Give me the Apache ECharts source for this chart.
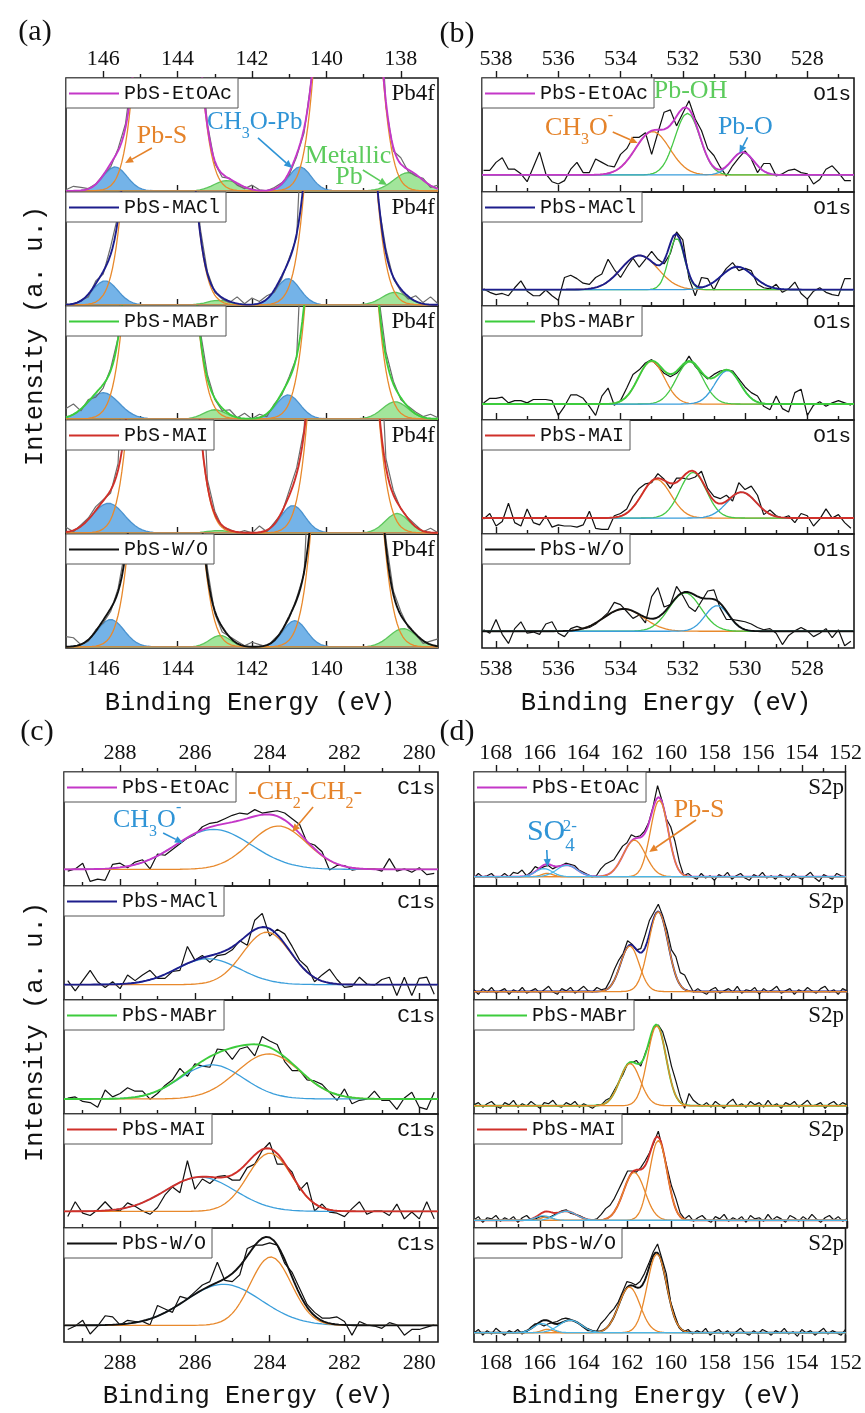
<!DOCTYPE html>
<html><head><meta charset="utf-8">
<script src="https://cdn.jsdelivr.net/npm/echarts@6/dist/echarts.min.js"></script>
<style>html,body{margin:0;padding:0;background:#fff}#c{width:865px;height:1413px}</style>
</head><body><div id="c"></div>
<script>
// ---------------- DATA ----------------
const samples = ['PbS-EtOAc', 'PbS-MACl', 'PbS-MABr', 'PbS-MAI', 'PbS-W/O'];

// measured spectra: first energy and step (eV)
const pb4fStart = 147.0, pb4fStep = 0.2;
const o1sStart = 538.4, o1sStep = 0.2;
const c1sStart = 289.4, c1sStep = 0.2;
const s2pStart = 169.0, s2pStep = 0.2;

// axis ranges (eV)
const pb4fRange = [137, 147];
const o1sRange = [526.5, 538.45];
const c1sRange = [279.5, 289.5];
const s2pRange = [152, 169];

const pb4fMajorTicks = [146, 144, 142, 140, 138];
const pb4fMinorTicks = [145, 143, 141, 139];
const o1sMajorTicks = [538, 536, 534, 532, 530, 528];
const o1sMinorTicks = [537, 535, 533, 531, 529, 527];
const c1sMajorTicks = [288, 286, 284, 282, 280];
const c1sMinorTicks = [289, 287, 285, 283, 281];
const s2pMajorTicks = [168, 166, 164, 162, 160, 158, 156, 154, 152];
const s2pMinorTicks = [167, 165, 163, 161, 159, 157, 155, 153];

// raw intensities (a.u., 0-100 per layer; values above 100 are off scale)
const rawPb4f_EtOAc = [2,5,4,3,7,15,22,38,60,110,200,200,200,200,200,200,200,200,128,60,25,13,12,6,3,6,2,1,4,8,15,31,52,100,200,200,200,200,200,200,200,200,200,75,36,30,18,14,12,4,6];
const rawPb4f_MACl = [2,1,5,8,22,28,52,80,200,200,200,200,200,200,200,200,200,200,70,30,12,6,3,8,2,7,4,9,12,24,42,60,200,200,200,200,200,200,200,200,200,200,90,50,24,13,6,9,3,8,2];
const rawPb4f_MABr = [10,14,8,18,20,28,45,72,200,200,200,200,200,200,200,200,200,200,80,40,18,8,9,2,6,1,5,3,14,22,38,55,200,200,200,200,200,200,200,200,200,200,110,60,34,18,12,7,3,5,2];
const rawPb4f_MAI = [6,2,8,14,24,30,36,62,200,200,200,200,200,200,200,200,200,200,200,48,20,6,4,1,3,1,7,2,10,18,38,58,92,200,200,200,200,200,200,200,200,200,200,66,38,22,14,8,2,5,1];
const rawPb4f_WO = [10,9,3,6,16,22,32,52,88,200,200,200,200,200,200,200,200,200,200,70,30,14,10,6,2,5,3,1,8,14,26,44,65,200,200,200,200,200,200,200,200,200,200,95,50,32,18,12,4,6,8];

const rawO1s_EtOAc = [19,19,26,30,20,20,16,9,22,35,16,9,7,10,20,26,17,17,29,26,23,22,33,38,48,48,52,33,52,70,72,58,69,80,64,54,38,32,22,14,23,30,36,29,17,25,25,14,16,19,20,17,16,7,11,20,23,17,10,10];
const rawO1s_MACl = [15,12,10,11,9,16,22,13,9,9,14,9,5,25,27,24,20,19,25,28,41,32,25,34,42,34,41,48,41,37,46,65,58,24,9,25,24,14,25,33,38,31,33,31,19,16,15,19,12,15,21,11,6,13,16,12,10,9,24,24];
const rawO1s_MABr = [15,19,19,20,15,17,17,15,18,18,18,17,4,12,22,22,19,12,4,21,28,13,17,28,40,44,50,53,47,41,38,41,47,56,47,41,36,40,43,44,43,36,29,24,21,12,9,21,10,7,24,27,4,13,16,12,15,17,15,13];
const rawO1s_MAI = [13,18,7,11,27,10,7,22,10,8,16,6,8,7,7,6,8,20,5,4,4,16,18,22,33,40,44,45,53,48,40,49,49,48,50,55,40,33,31,34,29,45,39,42,34,17,21,16,14,16,10,18,16,7,13,22,14,17,10,5];
const rawO1s_WO = [16,13,25,12,4,17,23,13,14,12,21,23,13,10,17,19,17,18,21,26,31,40,38,32,26,29,22,45,53,36,38,54,46,36,32,41,50,51,35,25,25,24,23,21,18,16,17,13,3,11,15,18,15,10,13,17,9,16,2,6];

const rawC1s_EtOAc = [13,15,20,4,6,5,19,20,16,21,23,15,28,27,32,37,42,45,52,55,56,59,62,64,63,67,64,65,66,64,59,54,38,36,30,14,18,18,14,15,15,15,13,24,13,15,12,16,10,11];
const rawC1s_MACl = [17,8,17,26,16,11,16,10,22,17,22,26,19,19,25,26,47,35,39,33,39,40,44,52,48,70,76,56,62,58,47,35,29,16,22,27,18,11,12,20,14,13,18,20,4,20,4,19,20,5];
const rawC1s_MABr = [14,15,11,10,6,21,15,18,23,20,20,13,18,25,30,40,33,44,42,41,57,56,48,57,59,51,68,64,61,46,38,38,30,29,26,19,12,22,9,12,13,20,12,12,4,14,19,6,4,19];
const rawC1s_MAI = [10,23,13,11,16,23,16,15,22,19,15,12,18,29,36,31,59,34,43,39,45,46,42,42,53,56,68,75,56,56,49,33,40,15,21,14,13,10,17,23,12,15,15,11,21,8,14,8,23,8];
const rawC1s_WO = [11,14,19,7,14,23,22,15,19,18,18,15,32,29,26,40,38,44,50,53,70,54,53,59,82,85,85,87,85,69,61,47,33,26,21,21,22,18,6,18,15,14,12,17,15,6,11,11,13,15];

const rawS2p_EtOAc = [7,11,8,9,11,7,8,11,8,12,11,14,9,12,17,15,17,18,15,17,18,20,19,18,14,12,10,8,9,15,19,21,23,29,35,38,45,43,44,48,56,70,88,75,59,52,39,21,9,11,8,6,11,7,9,5,10,8,12,6,9,11,7,5,10,8,12,7,9,6,10,8,5,11,8,6,9,12,7,4,10,8,6,11,9,8];
const rawS2p_MACl = [9,5,10,7,11,6,8,10,5,9,7,11,6,8,10,6,9,12,7,5,10,8,11,6,9,12,8,7,11,9,10,17,27,35,41,52,49,44,45,57,70,77,84,74,61,44,38,24,22,14,7,10,7,5,9,11,6,8,10,7,12,6,9,8,11,5,10,7,9,12,6,8,10,5,9,7,11,8,6,10,12,7,9,5,10,8];
const rawS2p_MABr = [8,10,6,9,11,7,5,10,8,12,6,9,7,11,8,5,10,9,12,7,6,10,8,11,6,9,7,5,8,8,12,14,21,28,35,44,45,47,42,53,63,76,78,72,59,42,29,15,5,18,12,9,7,10,6,11,8,5,10,13,7,9,6,11,8,10,6,12,7,9,5,10,8,11,6,9,12,7,8,10,5,9,11,7,10,8];
const rawS2p_MAI = [7,10,5,9,8,11,6,9,7,10,5,9,11,7,8,10,10,9,11,13,15,16,13,12,11,9,7,7,8,12,17,20,26,34,42,50,50,49,53,59,66,75,85,69,53,37,26,13,8,11,6,9,11,7,5,10,8,12,6,9,7,10,5,11,8,9,6,12,7,10,8,5,11,9,6,10,7,12,8,5,9,11,7,10,6,8];
const rawS2p_WO = [8,11,6,10,7,12,9,6,10,8,11,7,9,13,16,16,14,16,17,18,20,21,20,18,16,13,10,10,9,16,20,25,29,35,44,53,52,50,53,60,69,79,86,73,60,35,23,12,9,11,7,10,8,12,6,9,11,7,10,5,9,12,8,6,10,7,11,9,6,10,8,12,7,9,5,11,8,10,6,9,12,7,10,8,6,11];

// fitted components: [kind (o=orange, b=blue, g=green), centre eV, height, FWHM eV]
const fitPb4f_EtOAc = [['g',142.68,9,0.8],['g',137.8,16,0.9],['b',145.68,21,0.75],['b',140.71,21,0.7],['o',144.27,600,1.15],['o',139.42,650,1.15]];
const fitPb4f_MACl = [['g',142.9,4,0.7],['g',138.16,11,0.8],['b',145.95,21,0.8],['b',141.03,23,0.75],['o',144.5,650,1.2],['o',139.62,650,1.2]];
const fitPb4f_MABr = [['g',143.0,8,0.7],['g',138.15,15,0.8],['b',146.0,23,1.0],['b',141.03,21,0.75],['o',144.47,650,1.2],['o',139.59,650,1.2]];
const fitPb4f_MAI = [['g',142.9,2,0.7],['g',138.1,17,0.75],['b',145.86,26,1.0],['b',140.9,24,0.75],['o',144.38,650,1.18],['o',139.55,650,1.18]];
const fitPb4f_WO = [['g',142.86,10,0.65],['g',137.94,16,0.85],['b',145.8,24,0.85],['b',140.85,23,0.75],['o',144.32,650,1.2],['o',139.44,650,1.2]];

const fitO1s_EtOAc = [['o',532.97,38,1.3],['g',531.85,54,0.95],['b',530.08,20,0.85]];
const fitO1s_MACl = [['o',533.39,30,1.4],['g',532.2,45,0.6],['b',530.25,20,1.2]];
const fitO1s_MABr = [['o',533.01,37.5,1.0],['g',531.78,37,1.0],['b',530.56,29.5,0.95]];
const fitO1s_MAI = [['o',532.85,34,1.1],['g',531.67,40,1.0],['b',530.11,22.7,1.1]];
const fitO1s_WO = [['o',533.9,19.6,1.5],['g',531.93,33.7,1.2],['b',530.9,22.5,0.9]];

const fitC1s_EtOAc = [['b',285.5,35,2.4],['o',283.77,38,1.8]];
const fitC1s_MACl = [['b',285.65,22.7,2.0],['o',284.08,46,1.5]];
const fitC1s_MABr = [['b',285.55,30,2.0],['o',284.03,39.5,2.0]];
const fitC1s_MAI = [['b',285.86,30,2.2],['o',284.0,51,1.4]];
const fitC1s_WO = [['b',285.24,36,2.4],['o',283.97,60,1.3]];

const fitS2p_EtOAc = [['o',160.52,67,0.95],['o',161.66,32,1.2],['o',165.65,3,0.6],['b',164.75,10,1.1],['b',165.8,7,0.9]];
const fitS2p_MACl = [['o',160.6,70,1.05],['o',161.9,40,1.0]];
const fitS2p_MABr = [['o',160.67,70,1.0],['o',161.89,37,1.1]];
const fitS2p_MAI = [['o',160.6,70,0.95],['o',161.7,42,1.15],['o',165.7,3,0.6],['b',164.8,8,1.1],['b',165.85,4,0.8]];
const fitS2p_WO = [['o',160.63,69,1.05],['o',161.89,40,1.15],['o',165.65,3,0.6],['b',164.6,11,1.2],['b',165.9,8,0.9]];

const basePb4f = [1, 1, 1, 1, 1];
const baseO1s = [15, 14.4, 14, 14, 14.7];
const baseC1s = [14.6, 13.5, 13.2, 14.6, 14.6];
const baseS2p = [8.2, 7.4, 7.3, 6.7, 8.2];

// annotations (grid index, energy, intensity)
const notes = [
  {g:0, E:144.42, u:49, align:'center', c:'o', size:26, text:'{n|Pb-S}'},
  {g:0, E:143.21, u:61.4, align:'left', c:'b', size:25, text:'{n|CH}{s|3}{n|O-Pb}'},
  {g:0, E:139.42, u:31.6, align:'center', c:'g', size:26, text:'{n|Metallic}'},
  {g:0, E:139.39, u:13.2, align:'center', c:'g', size:26, text:'{n|Pb}'},
  {g:5, E:531.75, u:88.6, align:'center', c:'g', size:26, text:'{n|Pb-OH}'},
  {g:5, E:536.43, u:56, align:'left', c:'o', size:26, text:'{n|CH}{s|3}{n|O}{p|-}'},
  {g:5, E:529.99, u:57, align:'center', c:'b', size:26, text:'{n|Pb-O}'},
  {g:10, E:284.58, u:82.5, align:'left', c:'o', size:26, text:'{n|-CH}{s|2}{n|-CH}{s|2}{n|-}'},
  {g:10, E:288.19, u:57.9, align:'left', c:'b', size:26, text:'{n|CH}{s|3}{n|O}{p|-}'},
  {g:15, E:166.58, u:47.4, align:'left', c:'b', size:30, text:'{n|SO}{s|4}'},
  {g:15, E:164.94, u:52, align:'left', c:'b', size:17, text:'2-', plain:true},
  {g:15, E:158.7, u:66.7, align:'center', c:'o', size:26, text:'{n|Pb-S}'}
];
const arrows = [
  {g:0, from:[144.69,38.6], to:[145.41,25.4], c:'o'},
  {g:0, from:[141.84,47.4], to:[140.92,21], c:'b'},
  {g:0, from:[139.02,19.3], to:[138.37,6.1], c:'g'},
  {g:5, from:[534.25,52.6], to:[533.45,43], c:'o'},
  {g:5, from:[529.92,48], to:[530.18,34], c:'b'},
  {g:10, from:[282.84,69.3], to:[283.4,47.4], c:'o'},
  {g:10, from:[286.85,46.5], to:[286.32,37.7], c:'b'},
  {g:15, from:[165.67,31.6], to:[165.63,16.7], c:'b'},
  {g:15, from:[158.84,57.9], to:[160.98,29.8], c:'o'}
];

// ---------------- STYLE / LAYOUT ----------------
const sampleColors = ['#c437c8', '#1d1d8c', '#3ccc3c', '#d0302a', '#111111'];
const noteColors = {o:'#e5832a', b:'#2f94d6', g:'#5ccb5c'};
const ROWH = 114;
const panels = [
  {raw:[rawPb4f_EtOAc,rawPb4f_MACl,rawPb4f_MABr,rawPb4f_MAI,rawPb4f_WO], fit:[fitPb4f_EtOAc,fitPb4f_MACl,fitPb4f_MABr,fitPb4f_MAI,fitPb4f_WO], base:basePb4f,
   range:pb4fRange, start:pb4fStart, step:pb4fStep, majors:pb4fMajorTicks, minors:pb4fMinorTicks, left:66, right:438, top:78, tag:'Pb4f', tagMono:false, mode:'a'},
  {raw:[rawO1s_EtOAc,rawO1s_MACl,rawO1s_MABr,rawO1s_MAI,rawO1s_WO], fit:[fitO1s_EtOAc,fitO1s_MACl,fitO1s_MABr,fitO1s_MAI,fitO1s_WO], base:baseO1s,
   range:o1sRange, start:o1sStart, step:o1sStep, majors:o1sMajorTicks, minors:o1sMinorTicks, left:482, right:854, top:78, tag:'O1s', tagMono:true, mode:'b'},
  {raw:[rawC1s_EtOAc,rawC1s_MACl,rawC1s_MABr,rawC1s_MAI,rawC1s_WO], fit:[fitC1s_EtOAc,fitC1s_MACl,fitC1s_MABr,fitC1s_MAI,fitC1s_WO], base:baseC1s,
   range:c1sRange, start:c1sStart, step:c1sStep, majors:c1sMajorTicks, minors:c1sMinorTicks, left:64, right:438, top:772, tag:'C1s', tagMono:true, mode:'c'},
  {raw:[rawS2p_EtOAc,rawS2p_MACl,rawS2p_MABr,rawS2p_MAI,rawS2p_WO], fit:[fitS2p_EtOAc,fitS2p_MACl,fitS2p_MABr,fitS2p_MAI,fitS2p_WO], base:baseS2p,
   range:s2pRange, start:s2pStart, step:s2pStep, majors:s2pMajorTicks, minors:s2pMinorTicks, left:474, right:847, top:772, tag:'S2p', tagMono:false, mode:'d'}
];
function compColor(mode, kind){
  if (kind === 'o') return '#e8892c';
  if (kind === 'g') return mode === 'a' ? '#5cc65c' : '#45c845';
  if (mode === 'a') return '#4b93cf';
  if (mode === 'd') return '#4cb6e6';
  return '#3a9edb';
}
const FILL = {b:'#74b3e8', g:'#a2e59b'};
const gauss = (E, c, h, F) => h * Math.exp(-4 * Math.LN2 * (E - c) * (E - c) / (F * F));
function fineGrid(lo, hi, step){ const xs = []; const n = Math.round((hi - lo) / step); for (let i = 0; i <= n; i++) xs.push(+(hi - i * step).toFixed(3)); return xs; }

const grids = [], xAxes = [], yAxes = [], series = [], legends = [], gridX = [], tagGraphics = [];
const tickLine = {color:'#1a1a1a', width:1.4};
const labelStyle = {fontFamily:'Liberation Serif', fontSize:22, color:'#111'};

panels.forEach((p, pi) => {
  for (let r = 0; r < 5; r++) {
    const gi = grids.length;
    const top = p.top + r * ROWH;
    grids.push({left:p.left, top:top, width:p.right - p.left, height:ROWH, show:true, borderColor:'#1a1a1a', borderWidth:1.6, backgroundColor:'rgba(0,0,0,0)'});
    const common = {gridIndex:gi, type:'value', inverse:true, min:p.range[0], max:p.range[1], splitLine:{show:false}, axisLine:{show:false}};
    const xi = xAxes.length; gridX[gi] = xi;
    xAxes.push(Object.assign({}, common, {position:'bottom', axisTick:{show:true, inside:true, length:7, customValues:p.majors, lineStyle:tickLine},
      axisLabel:Object.assign({show:r === 4, customValues:p.majors, margin:10}, labelStyle)}));
    xAxes.push(Object.assign({}, common, {position:'bottom', axisTick:{show:true, inside:true, length:4, customValues:p.minors, lineStyle:tickLine}, axisLabel:{show:false}}));
    if (r === 0) {
      xAxes.push(Object.assign({}, common, {position:'top', axisTick:{show:true, inside:false, length:7, customValues:p.majors, lineStyle:tickLine},
        axisLabel:Object.assign({show:true, customValues:p.majors, margin:8}, labelStyle)}));
      xAxes.push(Object.assign({}, common, {position:'top', axisTick:{show:true, inside:false, length:4, customValues:p.minors, lineStyle:tickLine}, axisLabel:{show:false}}));
    }
    yAxes.push({gridIndex:gi, type:'value', min:0, max:100, show:false});

    const base = p.base[r];
    const fit = p.fit[r];
    const xs = fineGrid(p.range[0], p.range[1], 0.05);
    const rawSeries = {type:'line', name:'raw-' + pi + '-' + r, xAxisIndex:xi, yAxisIndex:gi, showSymbol:false, silent:true, clip:true,
      data:p.raw[r].map((v, i) => [+(p.start - i * p.step).toFixed(2), v]),
      lineStyle:{color:p.mode === 'a' ? '#6c6c6c' : '#111', width:1.2}, itemStyle:{color:'#111'}};
    const envSeries = {type:'line', name:samples[r], xAxisIndex:xi, yAxisIndex:gi, showSymbol:false, silent:true, clip:true,
      data:xs.map(E => [E, base + fit.reduce((s, k) => s + gauss(E, k[1], k[2], k[3]), 0)]),
      color:sampleColors[r], lineStyle:{color:sampleColors[r], width:1.9}, itemStyle:{color:sampleColors[r]}};
    const compSeries = fit.map((k, j) => {
      const s = {type:'line', name:'fit-' + pi + '-' + r + '-' + j, xAxisIndex:xi, yAxisIndex:gi, showSymbol:false, silent:true, clip:true,
        data:xs.map(E => [E, base + gauss(E, k[1], k[2], k[3])]),
        lineStyle:{color:compColor(p.mode, k[0]), width:1.3}, itemStyle:{color:compColor(p.mode, k[0])}};
      if (p.mode === 'a' && k[0] !== 'o') s.areaStyle = {color:FILL[k[0]], opacity:1, origin:'start'};
      s.kind = k[0];
      return s;
    });
    const clean = s => { const c = Object.assign({}, s); delete c.kind; return c; };
    if (p.mode === 'a') {
      compSeries.filter(s => s.kind !== 'o').forEach(s => series.push(clean(s)));
      series.push(rawSeries);
      compSeries.filter(s => s.kind === 'o').forEach(s => series.push(clean(s)));
      series.push(envSeries);
    } else if (p.mode === 'd') {
      series.push(rawSeries);
      series.push(envSeries);
      compSeries.filter(s => s.kind === 'o').forEach(s => series.push(clean(s)));
      compSeries.filter(s => s.kind !== 'o').forEach(s => series.push(clean(s)));
    } else {
      series.push(rawSeries);
      compSeries.forEach(s => series.push(clean(s)));
      series.push(envSeries);
    }
    if (!(p.mode === 'd' && r === 1)) {
      legends.push({data:[samples[r]], left:p.left, top:top, icon:'rect', itemWidth:50, itemHeight:2, selectedMode:false,
        padding:[5, 6, 4, 3], borderColor:'#555', borderWidth:1, backgroundColor:'#fff', borderRadius:0,
        textStyle:{fontFamily:'Liberation Mono', fontSize:20, lineHeight:21, color:'#111'}});
    }
    tagGraphics.push({type:'text', x:p.right - 3, y:top + 16, z:50,
      style:{text:p.tag, fill:'#111', align:'right', verticalAlign:'middle',
        font:(p.tagMono ? '21px "Liberation Mono"' : '23px "Liberation Serif"')}});
  }
});

const chart = echarts.init(document.getElementById('c'), null, {renderer:'canvas', width:865, height:1413});
chart.setOption({
  animation:false,
  backgroundColor:'#fff',
  grid:grids, xAxis:xAxes, yAxis:yAxes, series:series, legend:legends
});

function px(g, pt){ return chart.convertToPixel({xAxisIndex:gridX[g], yAxisIndex:g}, pt); }
const graphics = tagGraphics.slice();
const fixed = [
  {t:'(a)', x:35, y:32}, {t:'(b)', x:457, y:34}, {t:'(c)', x:37, y:732}, {t:'(d)', x:457, y:732}
];
fixed.forEach(f => graphics.push({type:'text', x:f.x, y:f.y, z:50, style:{text:f.t, fill:'#111', align:'center', verticalAlign:'middle', font:'30px "Liberation Serif"'}}));
[[250,703],[666,703],[248,1396],[657,1396]].forEach(q => graphics.push({type:'text', x:q[0], y:q[1], z:50,
  style:{text:'Binding Energy (eV)', fill:'#111', align:'center', verticalAlign:'middle', font:'25.5px "Liberation Mono"'}}));
[[35,336],[35,1032]].forEach(q => graphics.push({type:'text', x:q[0], y:q[1], rotation:Math.PI / 2, z:50,
  style:{text:'Intensity (a. u.)', fill:'#111', align:'center', verticalAlign:'middle', font:'25.5px "Liberation Mono"'}}));

notes.forEach(n => {
  const pos = px(n.g, [n.E, n.u]);
  const col = noteColors[n.c];
  const fam = '"Liberation Serif"';
  if (n.plain) {
    graphics.push({type:'text', x:pos[0], y:pos[1], z:60, style:{text:n.text, fill:col, align:n.align, verticalAlign:'middle', font:n.size + 'px ' + fam}});
    return;
  }
  const sub = Math.round(n.size * 0.62);
  graphics.push({type:'text', x:pos[0], y:pos[1], z:60, style:{text:n.text, align:n.align, verticalAlign:'middle',
    rich:{
      n:{fill:col, fontSize:n.size, fontFamily:fam, lineHeight:Math.round(n.size * 1.55), verticalAlign:'middle'},
      s:{fill:col, fontSize:sub, fontFamily:fam, lineHeight:sub, verticalAlign:'bottom'},
      p:{fill:col, fontSize:sub, fontFamily:fam, lineHeight:sub, verticalAlign:'top'}
    }}});
});
arrows.forEach(a => {
  const p0 = px(a.g, a.from), p1 = px(a.g, a.to);
  const col = noteColors[a.c];
  const dx = p1[0] - p0[0], dy = p1[1] - p0[1], L = Math.hypot(dx, dy), ux = dx / L, uy = dy / L;
  const hl = 8, hw = 3.6, bx = p1[0] - ux * hl, by = p1[1] - uy * hl;
  graphics.push({type:'line', z:60, shape:{x1:p0[0], y1:p0[1], x2:bx, y2:by}, style:{stroke:col, lineWidth:1.6}});
  graphics.push({type:'polygon', z:60, shape:{points:[[p1[0], p1[1]], [bx - uy * hw, by + ux * hw], [bx + uy * hw, by - ux * hw]]}, style:{fill:col}});
});
chart.setOption({graphic:graphics});
</script></body></html>
